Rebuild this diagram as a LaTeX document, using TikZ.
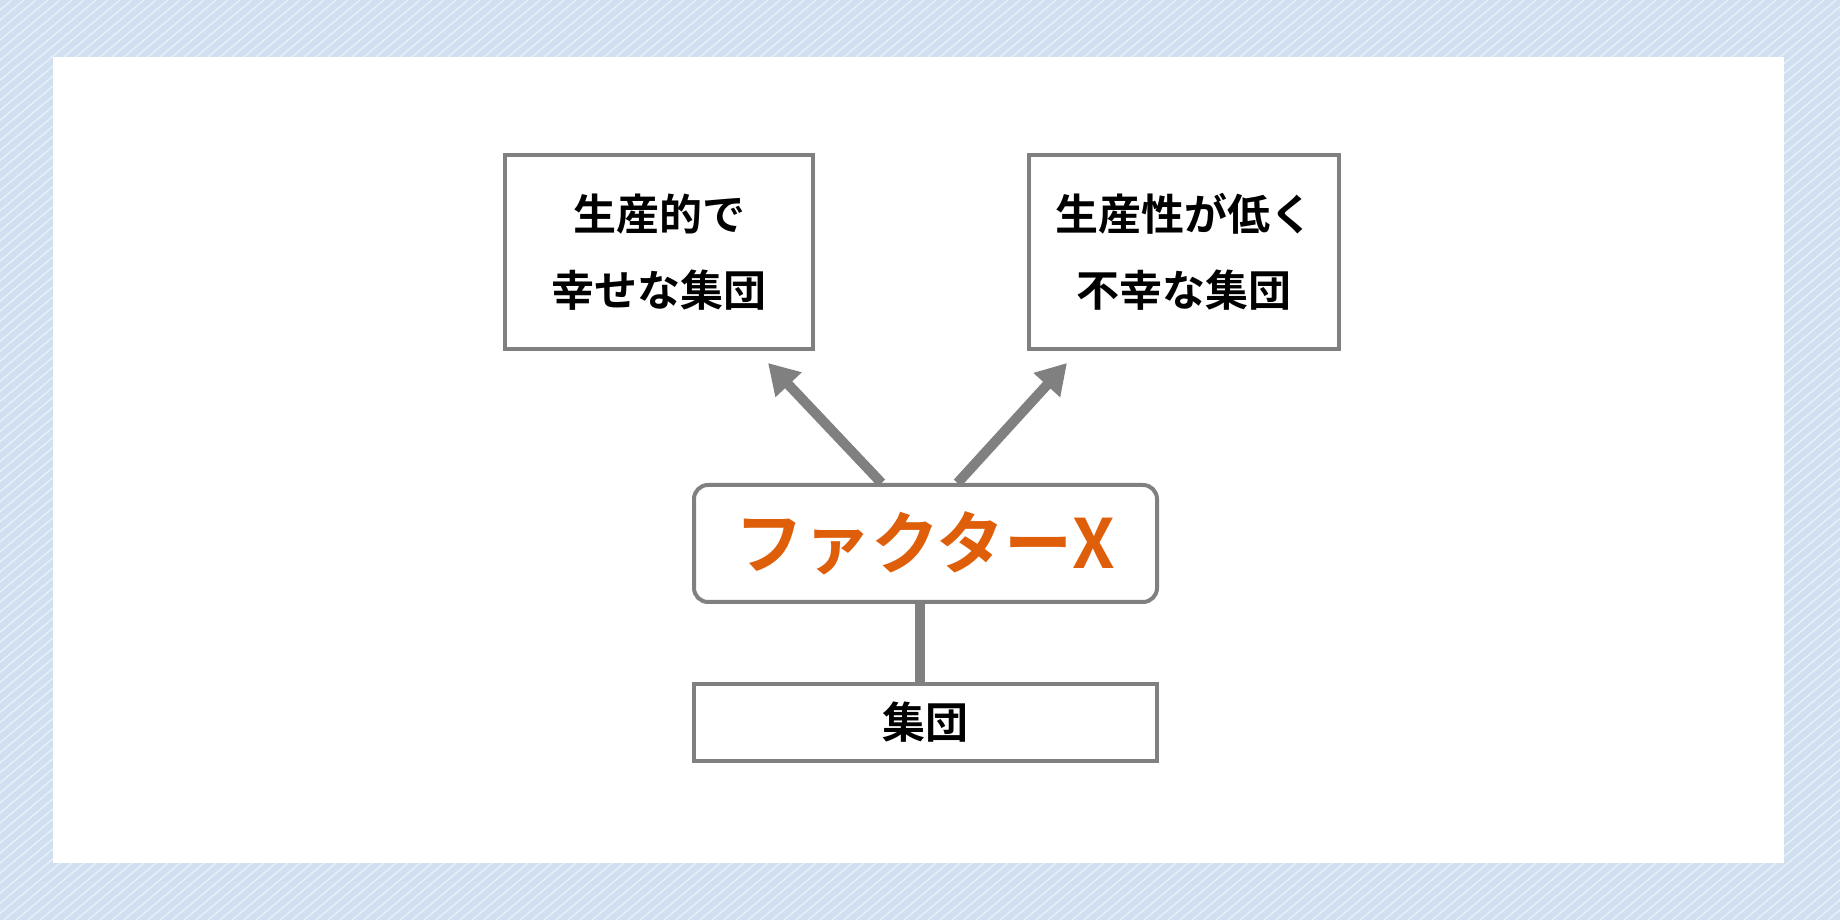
\documentclass[tikz,border=0pt]{standalone}
\usepackage{fontspec}
\newfontfamily\jp{Noto Sans CJK JP}[BoldFont={Noto Sans CJK JP Bold}]
\usepackage{tikz}
\usetikzlibrary{positioning, arrows.meta}

\definecolor{bgblue}{RGB}{208,224,240}
\definecolor{stripe}{RGB}{232,240,248}
\definecolor{edge}{RGB}{128,128,128}
\definecolor{factor}{RGB}{222,94,10}

\tikzset{
  box/.style={draw=edge, line width=4pt, fill=white, inner sep=0pt, align=center},
  link/.style={draw=edge, line width=10pt},
}

\begin{document}
\begin{tikzpicture}[x=1pt, y=1pt, font=\jp\bfseries]
    % background
    \fill[bgblue] (0,0) rectangle (1840,920);
    \begin{scope}
      \clip (0,0) rectangle (1840,920);
      \foreach \i in {-1124,-1112,...,1840}
        \draw[stripe, line width=1.4pt] (\i,0) -- ++(1100,920);
    \end{scope}
    \fill[white] (53,57) rectangle (1784,863);
    \useasboundingbox (0,0) rectangle (1840,920);

    \node[box, rounded corners=14pt, minimum width=463pt, minimum height=117pt,
      font=\jp\bfseries\fontsize{68}{74}\selectfont, text=factor] (fx) at (925.5,376.5) {ファクターX};
    \node[box, minimum width=463pt, minimum height=77pt,
      font=\jp\bfseries\fontsize{43}{50}\selectfont, below=78pt of fx] (grp) {集団};

    \node[box, minimum width=308pt, minimum height=194pt,
      font=\jp\bfseries\fontsize{43}{76}\selectfont] (good) at (659,668) {生産的で\\幸せな集団};
    \node[box, minimum width=310pt, minimum height=194pt,
      font=\jp\bfseries\fontsize{43}{76}\selectfont] (bad) at (1184,668) {生産性が低く\\不幸な集団};

    \coordinate (tipl) at (768,557);
    \coordinate (tipr) at (1067,557);

    \draw[link] ([xshift=-6pt]fx.south) -- ([xshift=-6pt]grp.north);
    \draw[link, -{Triangle[length=30pt, width=34pt]}] ([xshift=-44pt]fx.north) -- (tipl);
    \draw[link, -{Triangle[length=30pt, width=34pt]}] ([xshift=32pt]fx.north) -- (tipr);
\end{tikzpicture}
\end{document}
